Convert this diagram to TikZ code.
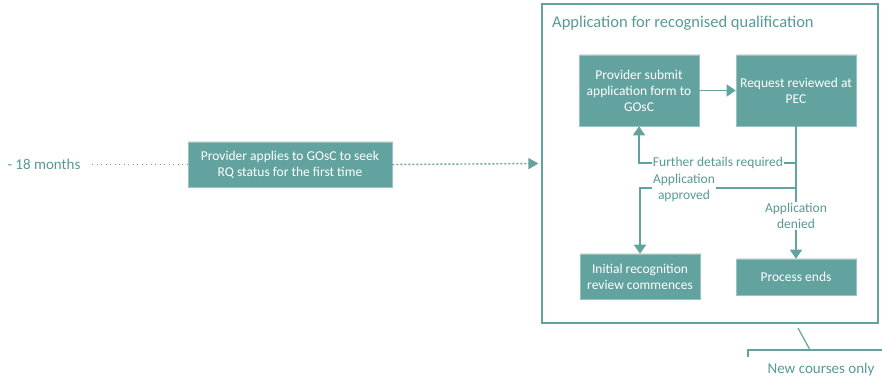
\documentclass[tikz,border=0pt]{standalone}
\usepackage{fontspec}
\setmainfont{Carlito}
\usetikzlibrary{arrows.meta,shadows}
\definecolor{tealbox}{RGB}{99,163,159}
\definecolor{tealline}{RGB}{99,163,159}
\definecolor{tealtext}{RGB}{86,154,150}
\definecolor{tealedge}{RGB}{150,196,193}
\tikzset{
  procbox/.style={rectangle, fill=tealbox, draw=tealedge, line width=0.6pt, text=white,
    font=\fontsize{13.5}{16}\selectfont, align=center, inner sep=2pt,
    drop shadow={shadow xshift=1.2pt, shadow yshift=1.2pt, fill=black!20, opacity=0.6}},
  flow/.style={draw=tealline, line width=1.8pt, -{Triangle[length=9pt,width=12pt]}},
  lbl/.style={fill=white, text=tealtext, font=\fontsize{13.5}{16}\selectfont, align=center, inner sep=1pt},
  bigtxt/.style={text=tealtext, font=\fontsize{15}{17}\selectfont, inner sep=0pt},
}
\begin{document}
\begin{tikzpicture}[x=1pt,y=-1pt]
\useasboundingbox (0,0) rectangle (882,380);
% frame
\node[draw=tealline, line width=1.2pt, minimum width=336pt, minimum height=319pt, inner sep=0pt] (frame) at (710,163.5) {};
\node[bigtxt, font=\fontsize{16.5}{18}\selectfont, anchor=west] (title) at (552,23) {Application for recognised qualification};
% left part
\node[bigtxt] (months) at (44,164) {- 18 months};
\coordinate (dstart) at (92,164.5);
\node[procbox, minimum width=204pt, minimum height=45pt, font=\fontsize{13.5}{15.5}\selectfont] (lbox) at (290,164.5) {Provider applies to GOsC to seek\\RQ status for the first time};
\draw[tealline, line width=1pt, dash pattern=on 1pt off 3.5pt] (dstart) -- (lbox.west);
\draw[tealline, line width=1.4pt, dash pattern=on 2pt off 2pt, -{Triangle[length=10pt,width=11pt,sep=0pt]}, shorten >=3pt] (lbox.east) -- (frame.west);
% inner boxes
\node[procbox, minimum width=120pt, minimum height=71pt] (b1) at (639,90.5) {Provider submit\\application form to\\GOsC};
\node[procbox, minimum width=120pt, minimum height=71pt] (b2) at (796,90.5) {Request reviewed at\\PEC};
\node[procbox, minimum width=120pt, minimum height=45pt] (b3) at (640,276.5) {Initial recognition\\review commences};
\node[procbox, minimum width=120pt, minimum height=36pt] (b4) at (796,277) {Process ends};
% connectors
\draw[flow] (b1.east) -- (b2.west);
\coordinate (jf) at (796,163);
\coordinate (ja) at (796,188);
\draw[flow] (b2.south) -- (b4.north);
\node[lbl] (ldenied) at (796,216) {Application\\denied};
\draw[flow] (jf) -- (b1.south |- jf) -- (b1.south);
\node[lbl] (lfurther) at (718,163) {Further details required};
\draw[flow] (ja) -- (b3.north |- ja) -- (b3.north);
\node[lbl] (lapproved) at (684,188) {Application\\approved};
% bracket
\coordinate (bk1) at (798,328);
\coordinate (bk2) at (810,350);
\coordinate (bkl) at (748,350);
\coordinate (bkr) at (882,350);
\coordinate (bkt) at (748,357);
\draw[tealline, line width=1.2pt] (bk1) -- (bk2);
\draw[tealline, line width=1.2pt] (bkt) -- (bkl) -- (bkr);
\node[bigtxt] (newc) at (821,369) {New courses only};
\end{tikzpicture}
\end{document}
